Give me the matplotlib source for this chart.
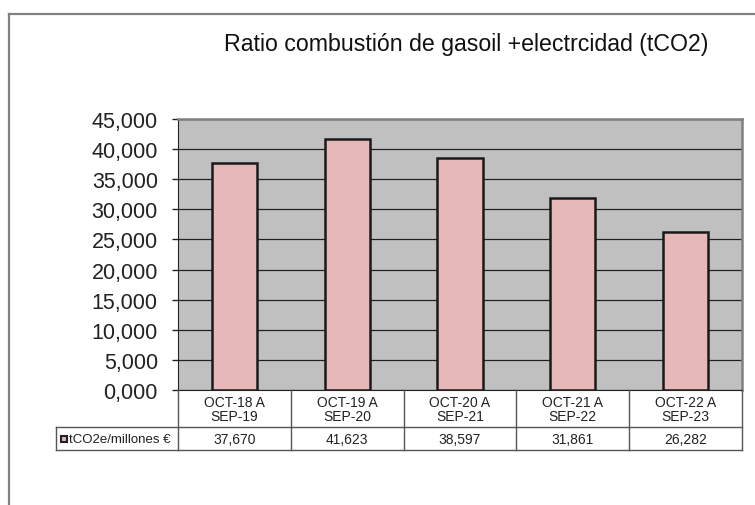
import matplotlib.pyplot as plt
import numpy as np

plt.rcParams['font.family'] = ['Liberation Sans', 'DejaVu Sans']

categories = ["OCT-18 A\nSEP-19", "OCT-19 A\nSEP-20", "OCT-20 A\nSEP-21",
              "OCT-21 A\nSEP-22", "OCT-22 A\nSEP-23"]
values = [37.670, 41.623, 38.597, 31.861, 26.282]
series_name = "tCO2e/millones €"
title = "Ratio combustión de gasoil +electrcidad (tCO2)"
yticks = np.arange(0, 50, 5)

W, H = 755, 506
fig = plt.figure(figsize=(W / 100, H / 100), dpi=100)

def fx(px):
    return px / W

def fy(py):
    return 1 - py / H

def es(v):
    # spanish style decimal comma
    return f"{v:.3f}".replace(".", ",")

# outer chart frame (runs off the right and bottom edges)
fig.add_artist(plt.Line2D([fx(8.5), fx(8.5)], [fy(14.7), fy(520)], color='#808080', lw=1.6,
                          transform=fig.transFigure))
fig.add_artist(plt.Line2D([fx(8.5), fx(760)], [fy(14.7), fy(14.7)], color='#808080', lw=1.6,
                          transform=fig.transFigure))

left, right, top, bottom = 178, 742, 120, 391
ax = fig.add_axes([fx(left), fy(bottom), fx(right - left), (bottom - top) / H])
ax.set_facecolor('#C0C0C0')
ax.set_axisbelow(True)
ax.yaxis.grid(color='#222222', linewidth=0.9)

x = np.arange(len(values))
ax.bar(x, values, width=0.4, color='#E6B8B7', edgecolor='#1a1a1a', linewidth=1.8)

ax.set_xlim(-0.5, len(values) - 0.5)
ax.set_ylim(0, 45)
ax.set_yticks(yticks)
ax.set_yticklabels([es(v) for v in yticks], fontsize=15.5, color='#222222')
ax.set_xticks([])
ax.tick_params(axis='y', length=4.5, width=1, color='#222222', pad=10)
for s in ['top', 'right']:
    ax.spines[s].set_color('#808080')
    ax.spines[s].set_linewidth(1.8)
ax.spines['left'].set_color('#222222')
ax.spines['bottom'].set_color('#222222')

fig.text(fx(466), fy(45), title, ha='center', va='center', fontsize=16.7, color='#111111')

# data table below plot area
row1_top, row1_bot, row2_bot = 391, 428, 451
leg_left = 56
cell_w = (right - left) / len(values)
line_kw = dict(color='#555555', lw=1.0, transform=fig.transFigure)
fig.add_artist(plt.Line2D([fx(leg_left), fx(right)], [fy(row1_bot), fy(row1_bot)], **line_kw))
fig.add_artist(plt.Line2D([fx(leg_left), fx(right)], [fy(row2_bot), fy(row2_bot)], **line_kw))
fig.add_artist(plt.Line2D([fx(leg_left), fx(leg_left)], [fy(row1_bot), fy(row2_bot)], **line_kw))
for i in range(len(values) + 1):
    xx = left + i * cell_w
    fig.add_artist(plt.Line2D([fx(xx), fx(xx)], [fy(row1_top), fy(row2_bot)], **line_kw))

for i, (cat, v) in enumerate(zip(categories, values)):
    cx = left + (i + 0.5) * cell_w
    fig.text(fx(cx), fy((row1_top + row1_bot) / 2 + 1), cat, ha='center', va='center',
             fontsize=10, color='#222222', linespacing=1.0)
    fig.text(fx(cx), fy((row1_bot + row2_bot) / 2 + 0.5), es(v),
             ha='center', va='center', fontsize=10, color='#222222')

# legend key in the table
fig.add_artist(plt.Rectangle((fx(61), fy(442.5)), 6 / W, 6 / H, facecolor='#E6B8B7',
                             edgecolor='#222222', lw=1.5, transform=fig.transFigure))
fig.text(fx(69), fy((row1_bot + row2_bot) / 2 + 0.5), series_name, ha='left', va='center',
         fontsize=9.5, color='#222222')

fig.savefig('out.png', dpi=100)
